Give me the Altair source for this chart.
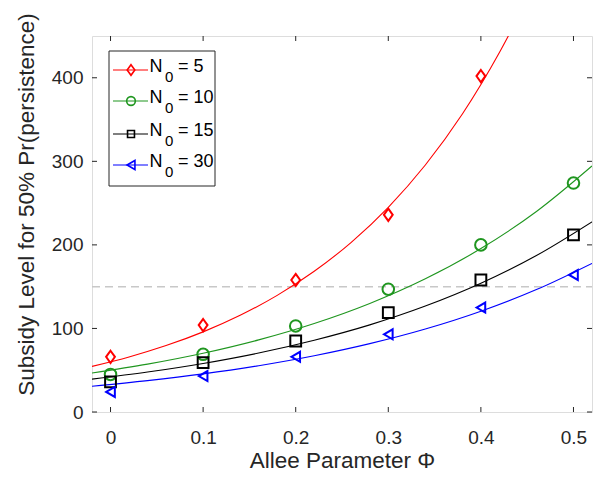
import altair as alt
import pandas as pd

# ---- data ----
phi = [0, 0.1, 0.2, 0.3, 0.4, 0.5]
n5 = [66, 104, 158, 236, 402]
n10 = [45, 69, 103, 147, 200, 274]
n15 = [36, 59, 85, 119, 158, 212]
n30 = [24, 43, 66, 93, 125, 164]

# fitted curves
curve_x_red = [-0.02, 0.02, 0.06, 0.10, 0.14, 0.18, 0.22, 0.26, 0.30, 0.34, 0.38, 0.42, 0.44]
curve_red = [54.6, 65.9, 79.5, 95.9, 115.7, 139.6, 168.4, 203.1, 245.0, 295.6, 356.6, 430.2, 472.0]
curve_x = [-0.02, 0.04, 0.10, 0.16, 0.22, 0.28, 0.34, 0.40, 0.46, 0.52]
curve_green = [46.7, 57.3, 70.3, 86.3, 105.9, 129.9, 159.4, 195.6, 240.0, 294.5]
curve_black = [39.4, 47.8, 58.1, 70.6, 85.9, 104.3, 126.8, 154.1, 187.3, 227.6]
curve_blue = [30.9, 37.6, 45.6, 55.4, 67.3, 81.8, 99.3, 120.6, 146.5, 177.9]

series = ["N0 = 5", "N0 = 10", "N0 = 15", "N0 = 30"]
legend_nums = ["5", "10", "15", "30"]
colors = ["#ff0000", "#1f961f", "#000000", "#0000ff"]
shapes = ["M0,-1L0.72,0L0,1L-0.72,0Z", "circle", "square", "triangle-left"]
sizes = [150, 100, 64, 110]
threshold = 150

x_ticks = [0, 0.1, 0.2, 0.3, 0.4, 0.5]
y_ticks = [0, 100, 200, 300, 400]

W, H = 500, 376

pts = []
for s, vals in zip(series, [n5, n10, n15, n30]):
    for xv, yv in zip(phi, vals):
        pts.append({"series": s, "phi": xv, "val": yv})
pts = pd.DataFrame(pts)

crv = []
for s, xs, ys in zip(series, [curve_x_red, curve_x, curve_x, curve_x],
                     [curve_red, curve_green, curve_black, curve_blue]):
    for xv, yv in zip(xs, ys):
        crv.append({"series": s, "phi": xv, "val": yv})
crv = pd.DataFrame(crv)

xscale = alt.Scale(domain=[-0.02, 0.52], nice=False, zero=False)
yscale = alt.Scale(domain=[0, 450], nice=False, zero=False)
cscale = alt.Scale(domain=series, range=colors)
sscale = alt.Scale(domain=series, range=shapes)
zscale = alt.Scale(domain=series, range=sizes)

font = "Liberation Sans"
axcol = "#262626"

xaxis = alt.Axis(values=x_ticks, ticks=False, domain=False, grid=False, format="~g",
                 labelFont=font, labelFontSize=19, labelColor=axcol, labelPadding=16,
                 title="Allee Parameter Φ", titleFont=font, titleFontSize=22.5,
                 titleFontWeight="normal", titleColor=axcol,
                 titleBaseline="alphabetic", titleY=55)
yaxis = alt.Axis(values=y_ticks, ticks=False, domain=False, grid=False,
                 labelFont=font, labelFontSize=19, labelColor=axcol, labelPadding=9,
                 title="Subsidy Level for 50% Pr(persistence)", titleFont=font,
                 titleFontSize=22.5, titleFontWeight="normal", titleColor=axcol,
                 titleBaseline="alphabetic", titleX=-59, titleY=168)

lines = alt.Chart(crv).mark_line(strokeWidth=1.1, clip=True, interpolate="monotone").encode(
    x=alt.X("phi:Q", scale=xscale, axis=xaxis),
    y=alt.Y("val:Q", scale=yscale, axis=yaxis),
    color=alt.Color("series:N", scale=cscale, legend=None),
    detail="series:N",
)

thr = alt.Chart(pd.DataFrame({"v": [threshold]})).mark_rule(
    color="#c8c8c8", strokeWidth=1.5, strokeDash=[8, 5]
).encode(y=alt.Y("v:Q", scale=yscale), x=alt.value(0), x2=alt.value(W))

points = alt.Chart(pts).mark_point(filled=False, strokeWidth=2, clip=True, opacity=1).encode(
    x=alt.X("phi:Q", scale=xscale),
    y=alt.Y("val:Q", scale=yscale),
    color=alt.Color("series:N", scale=cscale, legend=None),
    shape=alt.Shape("series:N", scale=sscale, legend=None),
    size=alt.Size("series:N", scale=zscale, legend=None),
)

# inward ticks
xt = pd.DataFrame({"t": x_ticks})
yt = pd.DataFrame({"t": y_ticks})
tick_layers = [
    alt.Chart(xt).mark_rule(color=axcol, strokeWidth=1).encode(
        x=alt.X("t:Q", scale=xscale), y=alt.value(H), y2=alt.value(H - 5)),
    alt.Chart(xt).mark_rule(color=axcol, strokeWidth=1).encode(
        x=alt.X("t:Q", scale=xscale), y=alt.value(0), y2=alt.value(5)),
    alt.Chart(yt).mark_rule(color=axcol, strokeWidth=1).encode(
        y=alt.Y("t:Q", scale=yscale), x=alt.value(0), x2=alt.value(5)),
    alt.Chart(yt).mark_rule(color=axcol, strokeWidth=1).encode(
        y=alt.Y("t:Q", scale=yscale), x=alt.value(W), x2=alt.value(W - 5)),
]

# manual legend
one = pd.DataFrame({"a": [0]})
leg = [
    alt.Chart(one).mark_rect(fill="white", stroke=axcol, strokeWidth=1).encode(
        x=alt.value(17), x2=alt.value(123), y=alt.value(15), y2=alt.value(150))
]
row_y = [34, 65, 98, 129]
for i, (num, col, shp, sz) in enumerate(zip(legend_nums, colors, shapes, sizes)):
    yy = row_y[i]
    leg.append(alt.Chart(one).mark_rule(color=col, strokeWidth=1.1).encode(
        x=alt.value(21), x2=alt.value(56), y=alt.value(yy)))
    leg.append(alt.Chart(one).mark_point(filled=False, strokeWidth=1.6, shape=shp,
                                         size=sz * 0.75, color=col, opacity=1).encode(
        x=alt.value(39), y=alt.value(yy)))
    leg.append(alt.Chart(one).mark_text(align="left", baseline="alphabetic", font=font,
                                        fontSize=18, color="black").encode(
        x=alt.value(57.5), y=alt.value(yy + 2), text=alt.value("N")))
    leg.append(alt.Chart(one).mark_text(align="left", baseline="alphabetic", font=font,
                                        fontSize=15, color="black").encode(
        x=alt.value(73), y=alt.value(yy + 11.7), text=alt.value("0")))
    leg.append(alt.Chart(one).mark_text(align="left", baseline="alphabetic", font=font,
                                        fontSize=18, color="black").encode(
        x=alt.value(86), y=alt.value(yy + 2), text=alt.value("= " + num)))

chart = alt.layer(thr, lines, points, *tick_layers, *leg).properties(
    width=W, height=H,
    autosize=alt.AutoSizeParams(type="none"),
    padding={"left": 84, "top": 28, "right": 1, "bottom": 61},
).configure_view(stroke=axcol, strokeWidth=1).configure(background="white")

chart.save("out.html", embed_options={"renderer": "svg", "actions": False})
